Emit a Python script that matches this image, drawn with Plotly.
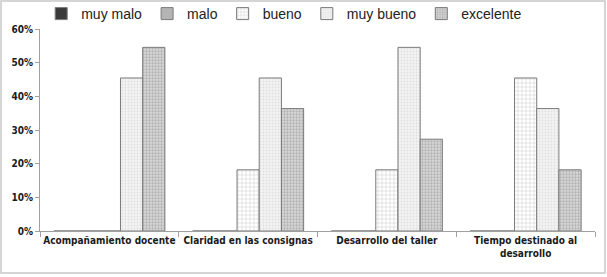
import plotly.graph_objects as go

categories = ["Acompañamiento docente", "Claridad en las consignas",
              "Desarrollo del taller", "Tiempo destinado al<br>desarrollo"]
series_names = ["muy malo", "malo", "bueno", "muy bueno", "excelente"]
muy_malo = [0.0, 0.0, 0.0, 0.0]
malo = [0.0, 0.0, 0.0, 0.0]
bueno = [0.0, 18.18, 18.18, 45.45]
muy_bueno = [45.45, 45.45, 54.55, 36.36]
excelente = [54.55, 36.36, 27.27, 18.18]
tick_vals = [0, 10, 20, 30, 40, 50, 60]
tick_text = ["0%", "10%", "20%", "30%", "40%", "50%", "60%"]

values = [muy_malo, malo, bueno, muy_bueno, excelente]
styles = [
    dict(color="#3a3a3a", pattern=dict(shape="")),
    dict(color="#b4b4b4", pattern=dict(shape="")),
    dict(color="#ffffff", pattern=dict(shape="+", fgcolor="#9a9a9a", size=4, solidity=0.25)),
    dict(color="#f4f4f4", pattern=dict(shape=".", fgcolor="#c8c8c8", size=3, solidity=0.3)),
    dict(color="#d8d8d8", pattern=dict(shape=".", fgcolor="#8a8a8a", size=3, solidity=0.45)),
]

fig = go.Figure()
for name, vals, st in zip(series_names, values, styles):
    fig.add_trace(go.Bar(
        name=name, x=categories, y=vals,
        marker=dict(color=st["color"], pattern=st["pattern"],
                    line=dict(color="#7a7a7a", width=1)),
    ))

tickfont = dict(family="DejaVu Sans Condensed, sans-serif", size=10, color="#1a1a1a")

fig.update_layout(
    width=607, height=277,
    margin=dict(l=40, r=12, t=29, b=46, autoexpand=False),
    paper_bgcolor="white", plot_bgcolor="white",
    barmode="group", bargap=0.2, bargroupgap=0.0,
    showlegend=True,
    legend=dict(orientation="h", x=0.44, xanchor="center", y=1 + 15/202, yanchor="middle",
                font=dict(family="Liberation Sans, Arial, sans-serif", size=14, color="#222"),
                itemwidth=30, tracegroupgap=0, traceorder="normal", bgcolor="rgba(0,0,0,0)"),
    xaxis=dict(showline=True, linecolor="#a0a0a0", linewidth=1, tickangle=0, automargin=False,
               ticks="outside", tickson="boundaries", ticklen=5, tickcolor="#a0a0a0",
               tickfont=tickfont, tickprefix="<b>", ticksuffix="</b>", showgrid=False),
    yaxis=dict(range=[0, 60], tickvals=tick_vals, ticktext=["<b>%s</b>" % t for t in tick_text],
               showline=True, linecolor="#a0a0a0", linewidth=1, ticks="outside", ticklen=4,
               automargin=False,
               tickcolor="#a0a0a0", tickfont=tickfont, showgrid=False, zeroline=False),
    shapes=[dict(type="rect", xref="paper", yref="paper",
                 x0=-39/555, x1=1 + 10/555, y0=-42/202, y1=1 + 28/202,
                 line=dict(color="#c8c8c8", width=1.5), fillcolor="rgba(0,0,0,0)")],
)

fig.write_html("out.html", config={"displayModeBar": False},
               post_script="document.body.style.margin='0px';")
